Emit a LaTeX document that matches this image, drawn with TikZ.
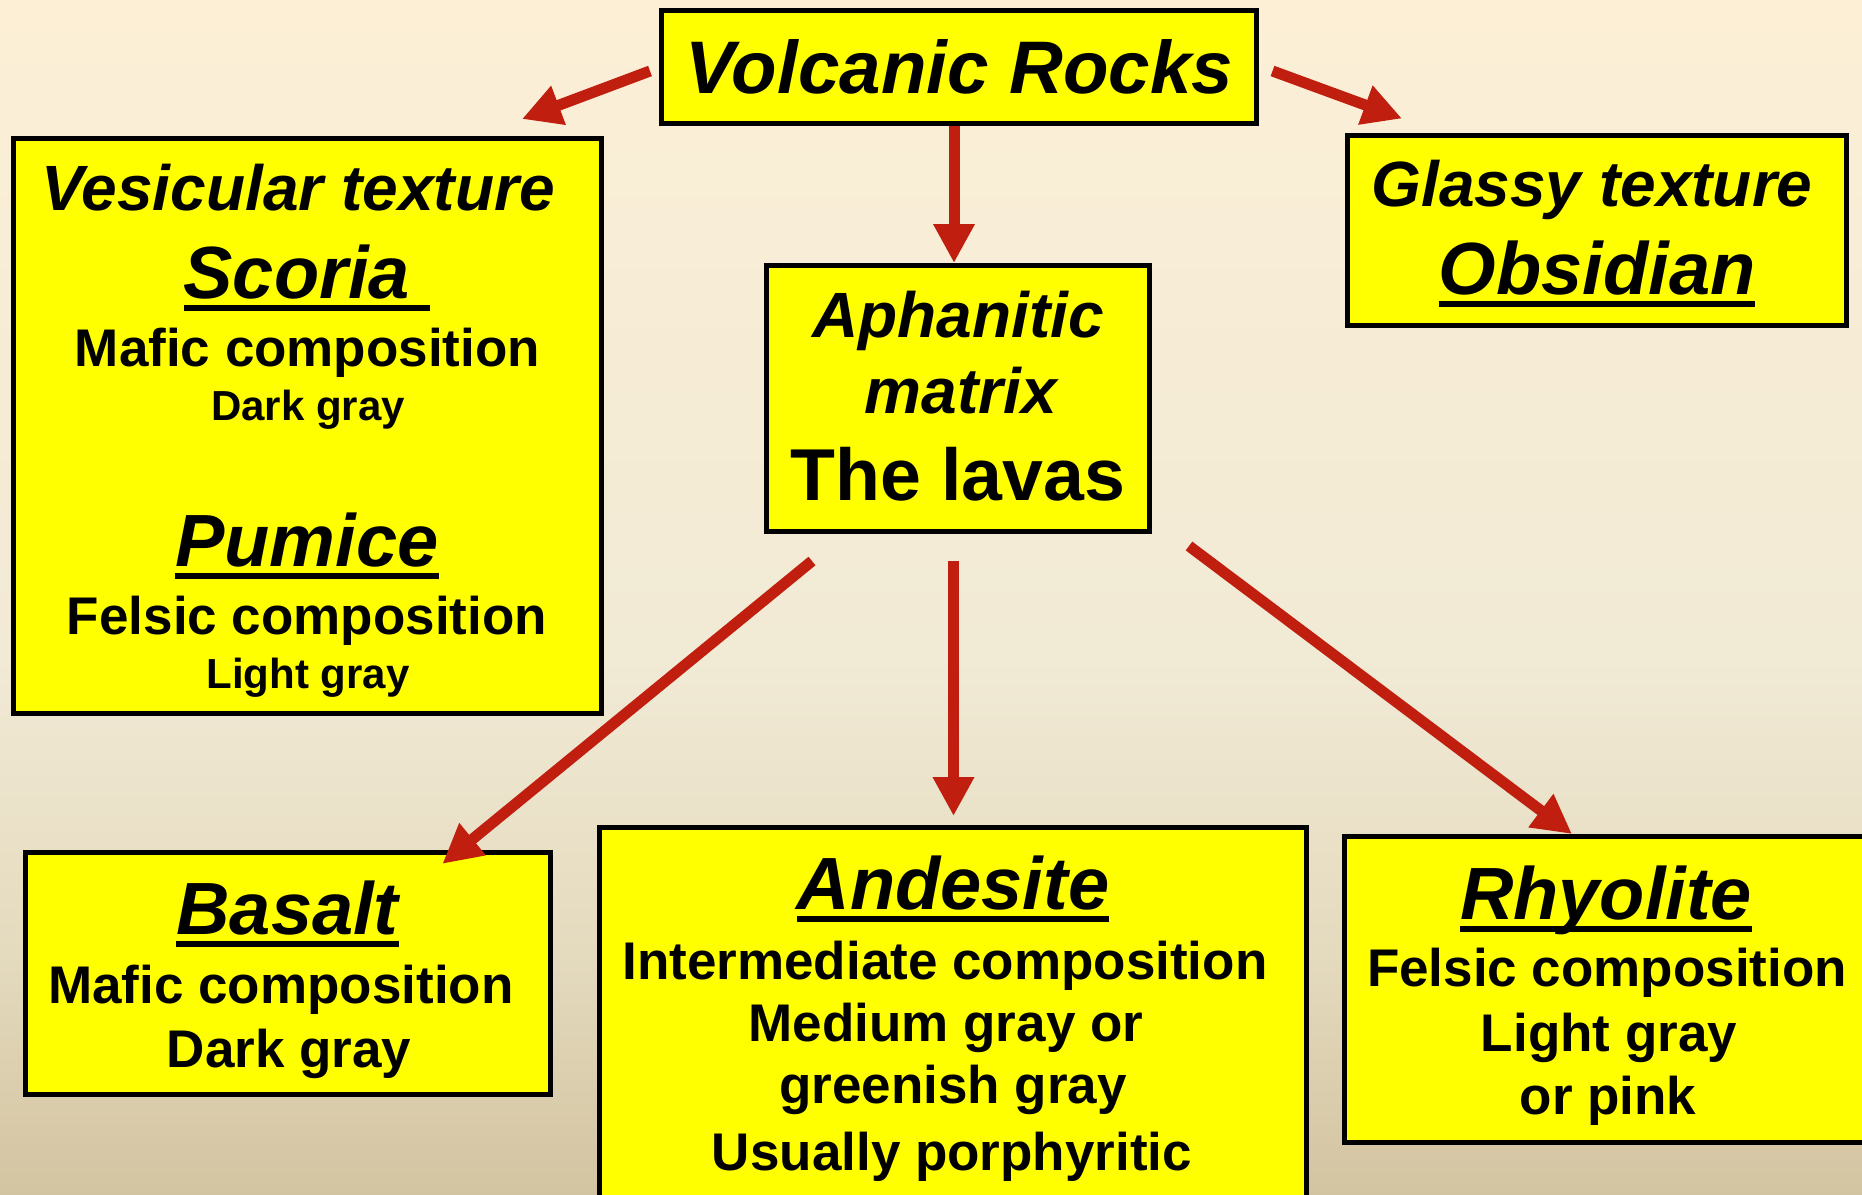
\documentclass[tikz,border=0pt]{standalone}
\usepackage{xcolor}
\usepackage{fontspec}
\setmainfont{Liberation Sans}
\usetikzlibrary{arrows.meta,positioning}

\definecolor{arrowred}{RGB}{192,30,14}
\definecolor{boxyellow}{RGB}{255,255,0}
\definecolor{bgtop}{RGB}{252,239,214}
\definecolor{bgmid}{RGB}{241,234,213}
\definecolor{bglow}{RGB}{228,218,190}
\definecolor{bgbot}{RGB}{211,196,161}
\pgfdeclareverticalshading{paper}{100bp}{color(0bp)=(bgbot); color(25bp)=(bgbot); color(35bp)=(bglow); color(47.5bp)=(bgmid); color(75bp)=(bgtop); color(100bp)=(bgtop)}

\newcommand{\ulword}[1]{\setbox0=\hbox{#1}\rlap{\rule[-0.17em]{\wd0}{0.08em}}\box0}

\begin{document}
\begin{tikzpicture}[
    x=1pt, y=-1pt,
    box/.style={rectangle, draw=black, line width=5pt, fill=boxyellow, inner sep=0pt},
    arr/.style={-{Triangle[length=39pt,width=39pt]}, line width=11pt, draw=arrowred},
    lbl/.style={anchor=base, inner sep=0pt},
    head/.style={lbl, font=\bfseries\itshape\fontsize{74pt}{80pt}\selectfont},
    sub/.style={lbl, font=\bfseries\itshape\fontsize{64pt}{70pt}\selectfont},
    body/.style={lbl, font=\bfseries\fontsize{53pt}{60pt}\selectfont},
    small/.style={lbl, font=\bfseries\fontsize{42pt}{48pt}\selectfont}
]
    \useasboundingbox (0,0) rectangle (1862,1194);
    \clip (0,0) rectangle (1862,1194);
    \shade[shading=paper] (0,0) rectangle (1862,1194);

    \node[box, minimum width=595pt, minimum height=113pt, font=\bfseries\itshape\fontsize{74.5pt}{80pt}\selectfont] (volc) at (959,67) {Volcanic Rocks};
    \node[box, minimum width=588pt, minimum height=575pt] (vesic) at (307.5,426) {};
    \node[box, minimum width=499pt, minimum height=190pt] (glassy) at (1597,230.5) {};
    \node[box, minimum width=383pt, minimum height=266pt] (aphan) at (958,398.5) {};
    \node[box, minimum width=525pt, minimum height=242pt] (basalt) at (288,973.5) {};
    \node[box, minimum width=707pt, minimum height=395pt] (andes) at (953,1025) {};
    \node[box, minimum width=533pt, minimum height=306pt] (rhyo) at (1611,989.5) {};

    \node[sub] (vestex) at (298,210) {Vesicular texture};
    \node[head] (scoria) at (307,298) {\ulword{Scoria\ }};
    \node[body] (vmafic) at (307.5,366.6) {Mafic composition};
    \node[small] (vdark) at (308,420) {Dark gray};
    \node[head] (pumice) at (307,566.4) {\ulword{Pumice}};
    \node[body] (vfelsic) at (307,634) {Felsic composition};
    \node[small] (vlight) at (308,688) {Light gray};

    \node[sub] (glatex) at (1592,206.7) {Glassy texture};
    \node[head] (obsid) at (1597,294) {\ulword{Obsidian}};

    \node[sub] (aphtex) at (958,337) {Aphanitic};
    \node[sub] (matrix) at (961,413) {matrix};
    \node[lbl, font=\bfseries\fontsize{73.5pt}{80pt}\selectfont] (lavas) at (958,500.7) {The lavas};

    \node[head] (basname) at (287.5,934.6) {\ulword{Basalt}};
    \node[body] (bmafic) at (281,1003.5) {Mafic composition};
    \node[body] (bdark) at (289,1067.4) {Dark gray};

    \node[head] (andname) at (953,909.7) {\ulword{Andesite}};
    \node[body] (interm) at (945,979.3) {Intermediate composition};
    \node[body] (medium) at (946,1041.8) {Medium gray or};
    \node[body] (greenish) at (953,1103) {greenish gray};
    \node[body] (usually) at (952,1170) {Usually porphyritic};

    \node[head] (rhyname) at (1606,919.3) {\ulword{Rhyolite}};
    \node[body] (rfelsic) at (1607,986) {Felsic composition};
    \node[body] (rlight) at (1609,1051) {Light gray};
    \node[body] (rpink) at (1608,1114.5) {or pink};

    \draw[arr] ([shift={(-9,4)}]volc.west) -- ([shift={(-82,-17)}]vesic.north east);
    \draw[arr] ([shift={(13.5,4)}]volc.east) -- ([shift={(57,-14.5)}]glassy.north west);
    \draw[arr] ([xshift=-5pt]volc.south) -- ([xshift=-4pt]aphan.north);
    \draw[arr] ([shift={(48,27)}]aphan.south west) -- ([shift={(-110.6,13.8)}]basalt.north east);
    \draw[arr] ([shift={(-4.5,26.5)}]aphan.south) -- ([shift={(0.5,-9)}]andes.north);
    \draw[arr] ([shift={(37,12)}]aphan.south east) -- ([shift={(230,0)}]rhyo.north west);
\end{tikzpicture}
\end{document}
